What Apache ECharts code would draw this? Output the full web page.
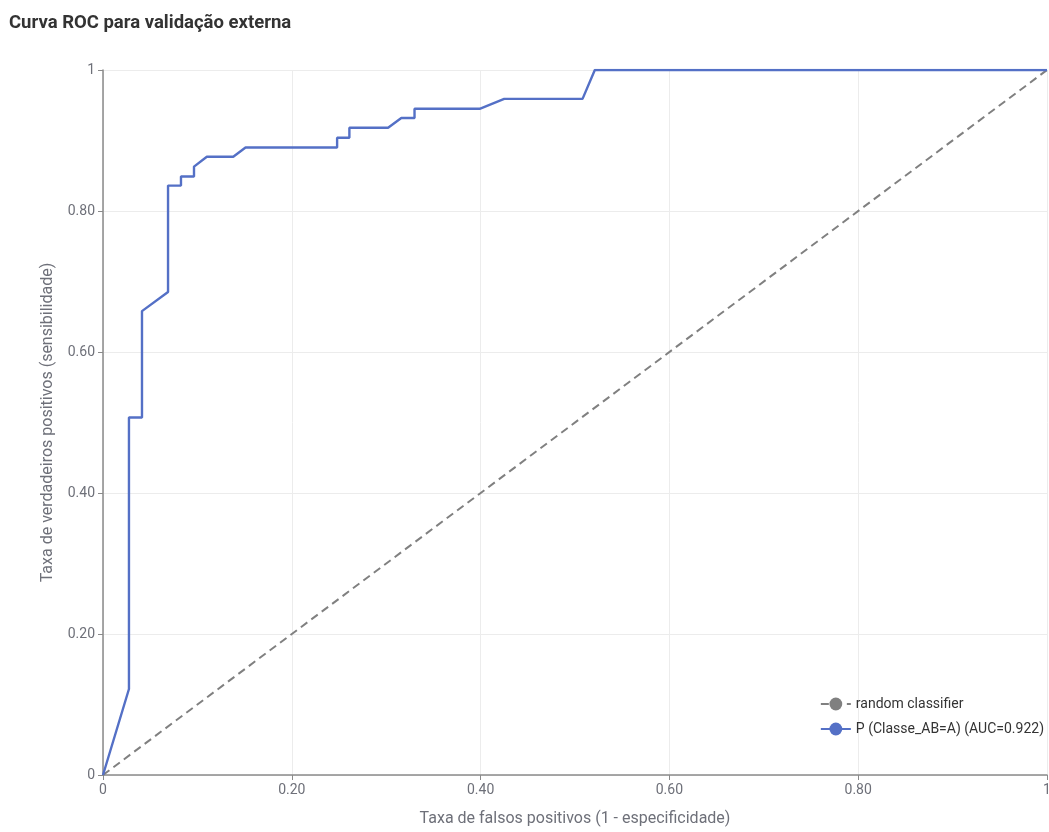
<!DOCTYPE html>
<html>
<head>
<meta charset="utf-8">
<script src="https://cdn.jsdelivr.net/npm/echarts@6/dist/echarts.min.js"></script>
<style>html,body{margin:0;padding:0;background:#fff}#c{width:1049px;height:832px}</style>
</head>
<body>
<div id="c"></div>
<script>
const titleText = 'Curva ROC para validação externa';
const xAxisName = 'Taxa de falsos positivos (1 - especificidade)';
const yAxisName = 'Taxa de verdadeiros positivos (sensibilidade)';
const randomName = 'random classifier';
const rocName = 'P (Classe_AB=A) (AUC=0.922)';
const randomFpr = [0, 1];
const randomTpr = [0, 1];
const rocFpr = [0, 0.0275, 0.0275, 0.0413, 0.0413, 0.0689, 0.0689, 0.0826, 0.0826, 0.0964, 0.0964, 0.110, 0.138, 0.151, 0.248, 0.248, 0.261, 0.261, 0.302, 0.316, 0.330, 0.330, 0.399, 0.425, 0.508, 0.521, 1];
const rocTpr = [0, 0.122, 0.507, 0.507, 0.658, 0.685, 0.836, 0.836, 0.849, 0.849, 0.863, 0.877, 0.877, 0.890, 0.890, 0.904, 0.904, 0.918, 0.918, 0.932, 0.932, 0.945, 0.945, 0.959, 0.959, 1, 1];

const pairs = (xs, ys) => xs.map((x, i) => [x, ys[i]]);
const fmt = v => (v === 0 || v === 1) ? String(v) : v.toFixed(2);
const font = 'Roboto';

const chart = echarts.init(document.getElementById('c'), null, {renderer: 'canvas'});
const axisCommon = {
  type: 'value', min: 0, max: 1, interval: 0.2,
  nameLocation: 'middle',
  nameTextStyle: {color: '#6e7079', fontSize: 16, fontFamily: font},
  axisLine: {show: true, lineStyle: {color: '#8a8a8a', width: 1.5}},
  axisTick: {show: true, length: 5, lineStyle: {color: '#8a8a8a'}},
  axisLabel: {color: '#6e7079', fontSize: 14, fontFamily: font, formatter: fmt},
  splitLine: {show: true, lineStyle: {color: '#ececec'}}
};
chart.setOption({
  animation: false,
  title: {text: titleText, left: 4, top: 9, textStyle: {fontSize: 18.5, fontWeight: 'bold', color: '#333', fontFamily: font}},
  grid: {left: 103, right: 2, top: 70, bottom: 57, containLabel: false, outerBoundsMode: 'none'},
  legend: {
    orient: 'vertical', right: 0, top: 692, itemGap: 11, itemWidth: 30, itemHeight: 16,
    textStyle: {fontSize: 14, color: '#333', fontFamily: font},
    data: [randomName, rocName]
  },
  xAxis: Object.assign({}, axisCommon, {name: xAxisName, nameGap: 36}),
  yAxis: Object.assign({}, axisCommon, {name: yAxisName, nameGap: 47}),
  series: [
    {
      name: randomName, type: 'line', data: pairs(randomFpr, randomTpr),
      showSymbol: false, symbol: 'circle', symbolSize: 8,
      itemStyle: {color: '#808080'},
      lineStyle: {color: '#808080', width: 2, type: [8, 5]}
    },
    {
      name: rocName, type: 'line', data: pairs(rocFpr, rocTpr),
      showSymbol: false, symbol: 'circle', symbolSize: 8,
      itemStyle: {color: '#5470c6'},
      lineStyle: {color: '#5470c6', width: 2.4}
    }
  ]
});
</script>
</body>
</html>
